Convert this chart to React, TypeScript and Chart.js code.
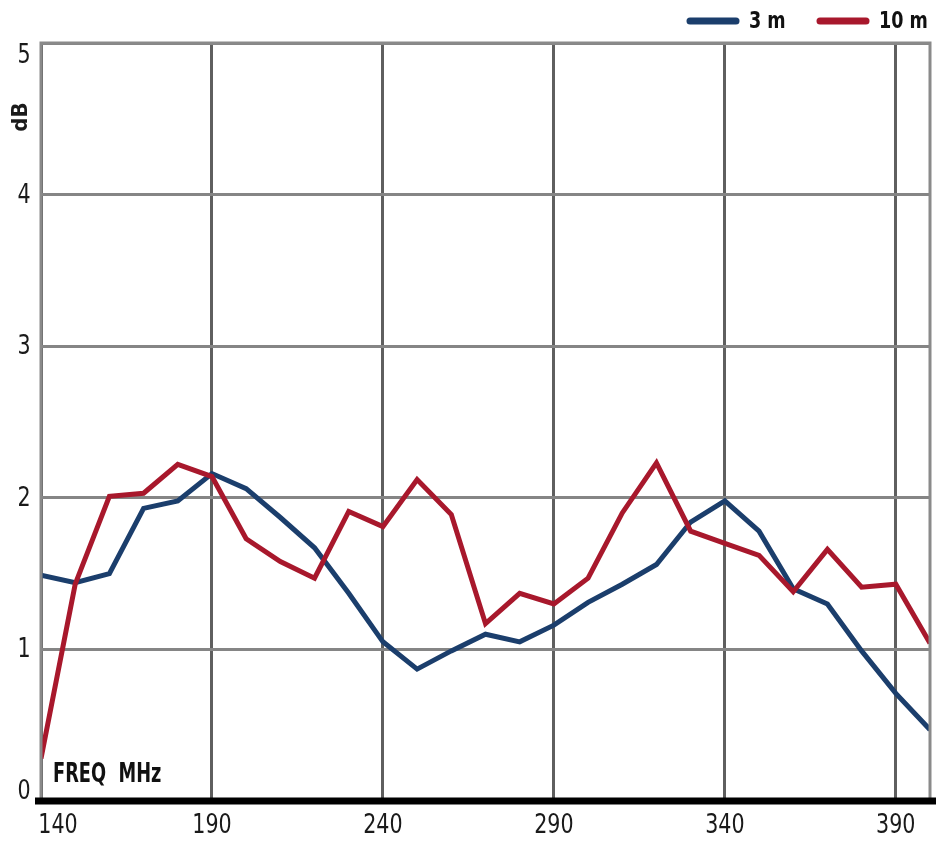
import React, { useEffect, useRef } from "react";
import { Chart, registerables } from "chart.js";

Chart.register(...registerables);

const FREQ_MHZ = [140, 150, 160, 170, 180, 190, 200, 210, 220, 230, 240, 250, 260, 270, 280, 290, 300, 310, 320, 330, 340, 350, 360, 370, 380, 390, 400];
const DB_3M = [1.49, 1.44, 1.5, 1.93, 1.98, 2.16, 2.06, 1.87, 1.67, 1.37, 1.05, 0.87, 0.99, 1.1, 1.05, 1.16, 1.31, 1.43, 1.56, 1.84, 1.98, 1.78, 1.4, 1.3, 0.99, 0.71, 0.47];
const DB_10M = [0.28, 1.43, 2.01, 2.03, 2.22, 2.14, 1.73, 1.58, 1.47, 1.91, 1.81, 2.12, 1.89, 1.17, 1.37, 1.3, 1.47, 1.9, 2.23, 1.78, 1.7, 1.62, 1.38, 1.66, 1.41, 1.43, 1.04];
const X_TICKS = [140, 190, 240, 290, 340, 390];
const Y_TICKS = [0, 1, 2, 3, 4, 5];
const SERIES_NAMES = ["3 m", "10 m"];
const AXIS_Y_TITLE = "dB";
const AXIS_X_TITLE = "FREQ  MHz";

const BLUE = "#1b3e6c";
const RED = "#a8182c";
const NARROW = '"Liberation Sans Narrow", "DejaVu Sans Condensed", "Liberation Sans", Arial, sans-serif';

function squeezedText(ctx: any, text: string, x: number, y: number, sx: number) {
  ctx.save();
  ctx.translate(x, y);
  ctx.scale(sx, 1);
  ctx.fillText(text, 0, 0);
  ctx.restore();
}

const decorPlugin = {
  id: "decor",
  afterDraw(chart: any) {
    const ctx = chart.ctx;
    const a = chart.chartArea;
    const xs = chart.scales.x;
    const ys = chart.scales.y;
    ctx.save();
    // frame: left, top, right
    ctx.strokeStyle = "#8a8a8a";
    ctx.lineWidth = 3;
    ctx.beginPath();
    ctx.moveTo(a.left, a.bottom);
    ctx.lineTo(a.left, a.top);
    ctx.lineTo(a.right, a.top);
    ctx.lineTo(a.right, a.bottom);
    ctx.stroke();
    // thick bottom axis
    ctx.strokeStyle = "#000";
    ctx.lineWidth = 7;
    ctx.beginPath();
    ctx.moveTo(a.left - 6, a.bottom);
    ctx.lineTo(a.right + 6, a.bottom);
    ctx.stroke();

    ctx.fillStyle = "#1a1a1a";
    // x tick labels
    ctx.font = `27px ${NARROW}`;
    ctx.textAlign = "center";
    ctx.textBaseline = "middle";
    X_TICKS.forEach((v, i) => {
      let px = xs.getPixelForValue(v);
      if (i === 0) px += 17;
      squeezedText(ctx, String(v), px, a.bottom + 25, 0.85);
    });
    // y tick labels
    Y_TICKS.forEach((v) => {
      let py = ys.getPixelForValue(v);
      py = Math.max(a.top + 12, Math.min(a.bottom - 10, py));
      squeezedText(ctx, String(v), 24, py + 1, 0.85);
    });
    // y title rotated
    ctx.save();
    ctx.font = `bold 22px ${NARROW}`;
    ctx.translate(21, 117);
    ctx.rotate(-Math.PI / 2);
    ctx.fillText(AXIS_Y_TITLE, 0, 0);
    ctx.restore();
    // x title inside plot
    ctx.font = `bold 26px ${NARROW}`;
    ctx.textAlign = "left";
    ctx.textBaseline = "alphabetic";
    ctx.fillStyle = "#111";
    squeezedText(ctx, AXIS_X_TITLE, a.left + 12, a.bottom - 19, 0.76);

    // legend
    const items = [
      { name: SERIES_NAMES[0], color: BLUE, x0: 690 },
      { name: SERIES_NAMES[1], color: RED, x0: 820 },
    ];
    ctx.font = `bold 23px ${NARROW}`;
    ctx.textBaseline = "middle";
    items.forEach((it) => {
      ctx.strokeStyle = it.color;
      ctx.lineWidth = 7;
      ctx.lineCap = "round";
      ctx.beginPath();
      ctx.moveTo(it.x0, 21);
      ctx.lineTo(it.x0 + 46, 21);
      ctx.stroke();
      ctx.fillStyle = "#111";
      squeezedText(ctx, it.name, it.x0 + 59, 22, 0.85);
    });
    ctx.restore();
  },
};

export default function App() {
  const ref = useRef<HTMLCanvasElement | null>(null);
  useEffect(() => {
    if (!ref.current) return;
    const chart = new Chart(ref.current, {
      type: "line",
      data: {
        datasets: [
          {
            label: SERIES_NAMES[1],
            data: FREQ_MHZ.map((f, i) => ({ x: f, y: DB_10M[i] })),
            borderColor: RED,
            borderWidth: 5,
            pointRadius: 0,
            tension: 0,
          },
          {
            label: SERIES_NAMES[0],
            data: FREQ_MHZ.map((f, i) => ({ x: f, y: DB_3M[i] })),
            borderColor: BLUE,
            borderWidth: 5,
            pointRadius: 0,
            tension: 0,
          },
        ],
      },
      options: {
        animation: false,
        responsive: false,
        devicePixelRatio: 1,
        layout: { padding: { top: 43, right: 16, left: 0, bottom: 0 } },
        plugins: { legend: { display: false }, tooltip: { enabled: false } },
        scales: {
          x: {
            type: "linear",
            min: 140,
            max: 400,
            afterBuildTicks: (s: any) => {
              s.ticks = X_TICKS.map((v) => ({ value: v }));
            },
            afterFit: (s: any) => {
              s.height = 43;
            },
            ticks: { display: false },
            grid: { color: "#5f5f5f", lineWidth: 3, drawTicks: false },
            border: { display: false },
          },
          y: {
            type: "linear",
            min: 0,
            max: 5,
            afterBuildTicks: (s: any) => {
              s.ticks = Y_TICKS.map((v) => ({ value: v }));
            },
            afterFit: (s: any) => {
              s.width = 41;
            },
            ticks: { display: false },
            grid: { color: "#858585", lineWidth: 3, drawTicks: false },
            border: { display: false },
          },
        },
      },
      plugins: [decorPlugin],
    } as any);
    return () => chart.destroy();
  }, []);
  return (
    <div style={{ position: "absolute", left: 0, top: 0, width: 946, height: 844, background: "#fff" }}>
      <canvas ref={ref} width={946} height={844} style={{ width: 946, height: 844, display: "block" }} />
    </div>
  );
}
